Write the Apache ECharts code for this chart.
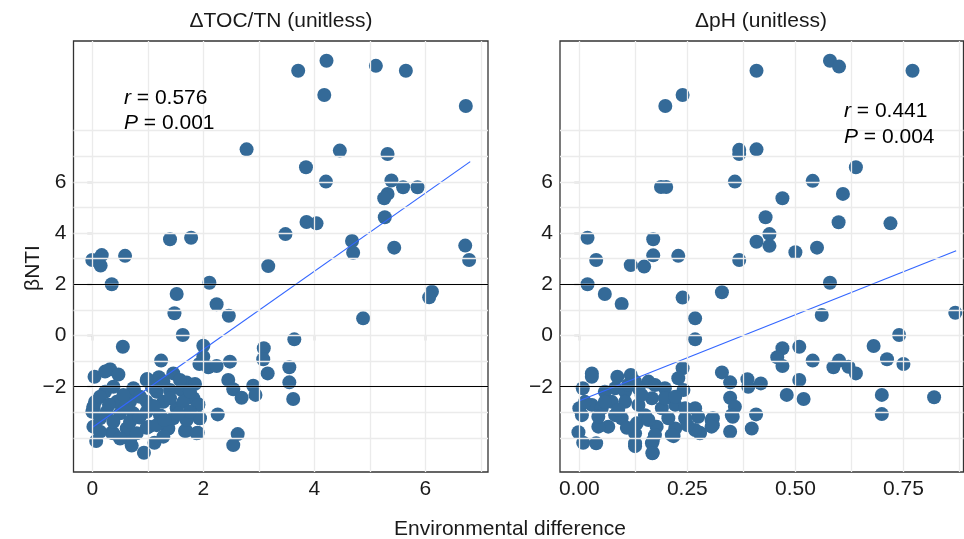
<!DOCTYPE html>
<html>
<head>
<meta charset="utf-8">
<script src="https://cdn.jsdelivr.net/npm/echarts@6/dist/echarts.min.js"></script>
<style>
html, body { margin: 0; padding: 0; background: #fff; }
#main { width: 964px; height: 539px; }
</style>
</head>
<body>
<div id="main"></div>
<script>
// ΔTOC/TN panel points [x, βNTI]
var tocPoints = [
    [3.71,10.34],[4.22,10.73],[5.11,10.53],[5.65,10.34],[4.18,9.39],[6.73,8.96],[2.78,7.27],[4.46,7.22],
    [5.32,7.09],[3.85,6.57],[4.21,6.01],[5.39,6.05],[5.60,5.79],[5.86,5.79],[5.32,5.53],[5.26,5.36],
    [5.27,4.62],[3.86,4.43],[4.04,4.38],[3.48,3.96],[1.40,3.76],[1.78,3.82],[4.68,3.69],[4.70,3.23],
    [5.44,3.43],[6.72,3.51],[6.79,2.95],[0.00,2.95],[0.17,3.14],[0.15,2.73],[0.59,3.11],[3.17,2.71],
    [0.35,2.00],[2.11,2.06],[6.12,1.71],[6.07,1.49],[1.52,1.62],[2.24,1.22],[1.48,0.87],[2.46,0.77],
    [4.88,0.67],[1.63,0.02],[3.64,-0.15],[0.55,-0.44],[2.00,-0.40],[3.09,-0.50],[3.08,-0.93],[2.00,-0.83],
    [1.93,-1.11],[2.09,-1.24],[2.24,-1.19],[2.48,-1.02],[3.16,-1.48],[3.55,-1.24],[3.55,-1.83],[3.62,-2.48],
    [1.24,-0.98],[2.45,-1.74],[2.54,-2.10],[2.69,-2.43],[2.90,-1.96],[2.94,-2.32],[2.26,-3.08],[2.62,-3.85],
    [2.54,-4.28],[0.93,-4.58],[1.12,-4.19],[0.71,-4.30],[0.07,-4.12],[0.04,-1.61],[0.32,-1.32],[0.47,-1.52],
    [0.23,-1.41],[0.99,-1.70],[1.20,-1.63],[1.46,-1.48],[1.70,-1.84],[1.85,-1.89],[0.75,-2.13],[1.91,-2.68],
    [1.93,-3.23],[1.90,-3.80],[1.69,-3.72],[1.36,-3.63],[1.02,-3.56],[0.35,-3.80],[0.68,-4.08],[0.00,-2.98],
    [0.02,-2.78],[0.38,-3.82],[0.62,-3.63],[0.98,-3.60],[1.37,-3.63],[1.67,-3.73],[1.88,-3.82],[0.02,-3.56],
    [0.02,-2.84],[0.05,-2.59],[0.23,-2.20],[0.38,-2.00],[0.74,-2.06],[0.98,-1.74],[1.16,-2.20],[1.40,-2.13],
    [1.61,-2.13],[1.82,-2.45],[1.91,-2.71],[1.94,-3.23],[1.70,-3.30],[1.46,-3.23],[1.22,-3.11],[0.98,-2.98],
    [0.74,-3.04],[0.50,-3.04],[0.26,-2.98],[0.14,-3.23],[0.38,-3.37],[0.68,-3.37],[1.16,-3.50],[1.52,-2.84],
    [1.28,-2.59],[0.98,-2.59],[0.68,-2.59],[0.44,-2.59],[1.40,-2.45],[1.64,-2.59],[1.76,-2.98],[0.14,-2.39],
    [0.56,-2.32],[0.86,-2.39],[1.07,-2.00],[1.28,-1.80],[1.58,-1.74],[1.76,-2.20],[0.80,-3.82],[1.28,-3.95],
    [0.50,-4.02],[0.14,-3.76],[0.60,-2.80],[1.10,-2.75],[1.55,-3.05],[0.85,-3.20],[1.30,-3.30],[0.30,-2.70]
];
// ΔpH panel points [x, βNTI]
var phPoints = [
    [0.580,10.73],[0.601,10.50],[0.771,10.34],[0.410,10.34],[0.239,9.39],[0.199,8.96],[0.370,7.25],[0.370,7.09],
    [0.410,7.27],[0.640,6.57],[0.360,6.01],[0.540,6.04],[0.189,5.80],[0.201,5.80],[0.610,5.53],[0.470,5.36],
    [0.431,4.62],[0.600,4.42],[0.720,4.38],[0.440,3.96],[0.410,3.66],[0.440,3.50],[0.500,3.25],[0.550,3.43],
    [0.019,3.82],[0.039,2.95],[0.171,3.76],[0.171,3.13],[0.119,2.75],[0.150,2.69],[0.229,3.11],[0.370,2.95],
    [0.019,2.00],[0.580,2.06],[0.059,1.62],[0.098,1.23],[0.239,1.48],[0.330,1.69],[0.268,0.67],[0.268,-0.15],
    [0.561,0.80],[0.870,0.89],[0.740,0.02],[0.681,-0.41],[0.509,-0.44],[0.470,-0.50],[0.458,-0.85],[0.470,-1.19],
    [0.540,-0.98],[0.712,-0.93],[0.750,-1.11],[0.588,-1.24],[0.601,-0.98],[0.623,-1.22],[0.640,-1.48],[0.509,-1.74],
    [0.480,-2.32],[0.519,-2.48],[0.700,-2.32],[0.700,-3.07],[0.821,-2.41],[0.330,-1.44],[0.349,-1.83],[0.389,-1.71],
    [0.391,-2.00],[0.420,-1.87],[0.349,-2.43],[0.360,-2.78],[0.355,-3.17],[0.349,-3.76],[0.409,-3.08],[0.399,-3.63],
    [0.309,-3.23],[0.309,-3.50],[0.279,-3.80],[0.239,-1.28],[0.229,-1.67],[0.119,-1.54],[0.088,-1.61],[0.029,-1.48],
    [0.029,-1.61],[0.008,-2.06],[0.000,-2.84],[-0.002,-3.78],[0.009,-4.19],[0.039,-4.21],[0.129,-4.32],[0.170,-4.58],
    [0.170,-4.12],[0.218,-3.93],[0.006,-3.11],[0.059,-2.20],[0.083,-2.06],[0.106,-2.20],[0.160,-1.80],[0.175,-1.93],
    [0.198,-2.06],[0.241,-2.13],[0.137,-2.06],[0.029,-2.71],[0.052,-2.84],[0.075,-2.59],[0.106,-2.59],[0.137,-2.71],
    [0.168,-2.45],[0.191,-2.84],[0.222,-2.71],[0.245,-2.84],[0.268,-2.84],[0.275,-3.17],[0.306,-3.30],[0.306,-3.56],
    [0.279,-3.82],[0.245,-3.23],[0.222,-3.63],[0.214,-3.89],[0.179,-3.56],[0.175,-3.89],[0.168,-4.21],[0.169,-4.60],
    [0.129,-4.21],[0.129,-3.82],[0.133,-3.43],[0.098,-3.23],[0.067,-3.56],[0.044,-3.56],[0.044,-3.17],[0.083,-3.11],
    [0.152,-3.11],[0.206,-3.23],[0.198,-2.45],[0.144,-2.32],[0.222,-2.39],[0.129,-1.80],[0.113,-1.93],[0.059,-2.59],
    [0.013,-2.59],[0.353,-3.11],[0.268,-3.69],[0.090,-2.90],[0.160,-3.30],[0.250,-3.50],[0.110,-3.60]
];
// fitted lines (end points)
var tocFit = [[0, -3.59], [6.81, 6.79]];
var phFit = [[0, -2.55], [0.872, 3.31]];
// axis ticks and grid lines
var yTicks = [-2, 0, 2, 4, 6];
var yGrid = [-4, -3, -2, -1, 0, 1, 2, 3, 4, 5, 6, 7, 8];
var tocTicks = [0, 2, 4, 6];
var tocGrid = [0, 1, 2, 3, 4, 5, 6, 7];
var phTicks = [0, 0.25, 0.5, 0.75];
var phGrid = [0, 0.125, 0.25, 0.375, 0.5, 0.625, 0.75, 0.875];
var refLines = [-2, 2];

var FONT = 'Liberation Sans, Arial, sans-serif';
var FS = 21;
var POINT = '#346A98';

var myChart = echarts.init(document.getElementById('main'));

function gridLines(xi, xs) {
    var d = [];
    for (var i = 0; i < yGrid.length; i++) d.push({ yAxis: yGrid[i] });
    for (var j = 0; j < xs.length; j++) d.push({ xAxis: xs[j] });
    return {
        type: 'scatter', xAxisIndex: xi, yAxisIndex: xi, data: [], z: 1, silent: true,
        markLine: {
            silent: true, symbol: 'none', label: { show: false },
            lineStyle: { color: '#EBEBEB', width: 1.3, type: 'solid' },
            data: d
        }
    };
}

function xAxisOpt(gi, min, max, ticks, fmt) {
    return {
        type: 'value', gridIndex: gi, min: min, max: max,
        splitLine: { show: false },
        axisLine: { show: false },
        axisTick: { show: true, length: 5, customValues: ticks, lineStyle: { color: '#333', width: 1.2 } },
        axisLabel: { customValues: ticks, formatter: fmt, color: '#1a1a1a', fontSize: FS, fontFamily: FONT, margin: 7 }
    };
}
function yAxisOpt(gi) {
    return {
        type: 'value', gridIndex: gi, min: -5.33, max: 11.5,
        splitLine: { show: false },
        axisLine: { show: false },
        axisTick: { show: true, length: 5, customValues: yTicks, lineStyle: { color: '#333', width: 1.2 } },
        axisLabel: {
            customValues: yTicks, color: '#1a1a1a', fontSize: FS, fontFamily: FONT, margin: 7,
            formatter: function (v) { return String(v).replace('-', '\u2212'); }
        }
    };
}

function statText(x, y, sym, val) {
    return {
        type: 'text', x: x, y: y, z: 100,
        style: {
            text: '{i|' + sym + '}{n| = ' + val + '}', textVerticalAlign: 'middle',
            rich: {
                i: { fontStyle: 'italic', fontSize: FS, fontFamily: FONT, fill: '#000' },
                n: { fontSize: FS, fontFamily: FONT, fill: '#000' }
            }
        }
    };
}
function plainText(x, y, text, rot) {
    return {
        type: 'text', x: x, y: y, z: 100, rotation: rot || 0,
        style: { text: text, font: FS + 'px ' + FONT, fill: '#1a1a1a', textAlign: 'center', textVerticalAlign: 'middle' }
    };
}

var option = {
    animation: false,
    backgroundColor: '#fff',
    grid: [
        { left: 73.5, top: 41, width: 414.5, height: 431, show: true, borderColor: '#333', borderWidth: 1.3, backgroundColor: 'transparent' },
        { left: 560, top: 41, width: 403.5, height: 431, show: true, borderColor: '#333', borderWidth: 1.3, backgroundColor: 'transparent' }
    ],
    xAxis: [
        xAxisOpt(0, -0.339, 7.13, tocTicks, function (v) { return String(v); }),
        xAxisOpt(1, -0.0447, 0.889, phTicks, function (v) { return v.toFixed(2); })
    ],
    yAxis: [yAxisOpt(0), yAxisOpt(1)],
    series: [
        gridLines(0, tocGrid),
        gridLines(1, phGrid),
        {
            type: 'scatter', xAxisIndex: 0, yAxisIndex: 0, data: tocPoints, z: 2,
            symbolSize: 14, itemStyle: { color: POINT, opacity: 1 }
        },
        {
            type: 'scatter', xAxisIndex: 1, yAxisIndex: 1, data: phPoints, z: 2,
            symbolSize: 14, itemStyle: { color: POINT, opacity: 1 }
        },
        {
            type: 'scatter', xAxisIndex: 0, yAxisIndex: 0, data: [], z: 3, silent: true,
            markLine: { silent: true, symbol: 'none', label: { show: false }, lineStyle: { color: '#000', width: 1.2, type: 'solid' },
                data: refLines.map(function (v) { return { yAxis: v }; }) }
        },
        {
            type: 'scatter', xAxisIndex: 1, yAxisIndex: 1, data: [], z: 3, silent: true,
            markLine: { silent: true, symbol: 'none', label: { show: false }, lineStyle: { color: '#000', width: 1.2, type: 'solid' },
                data: refLines.map(function (v) { return { yAxis: v }; }) }
        },
        {
            type: 'line', xAxisIndex: 0, yAxisIndex: 0, data: tocFit, z: 4,
            symbol: 'none', lineStyle: { color: '#3366FF', width: 1.2 }
        },
        {
            type: 'line', xAxisIndex: 1, yAxisIndex: 1, data: phFit, z: 4,
            symbol: 'none', lineStyle: { color: '#3366FF', width: 1.2 }
        }
    ],
    graphic: [
        plainText(281, 21, '\u0394TOC/TN (unitless)'),
        plainText(761, 21, '\u0394pH (unitless)'),
        plainText(510, 529, 'Environmental difference'),
        plainText(33, 268, '\u03B2NTI', Math.PI / 2),
        statText(124, 98, 'r', '0.576'),
        statText(124, 123, 'P', '0.001'),
        statText(844, 111, 'r', '0.441'),
        statText(844, 137, 'P', '0.004')
    ]
};
myChart.setOption(option);
</script>
</body>
</html>
